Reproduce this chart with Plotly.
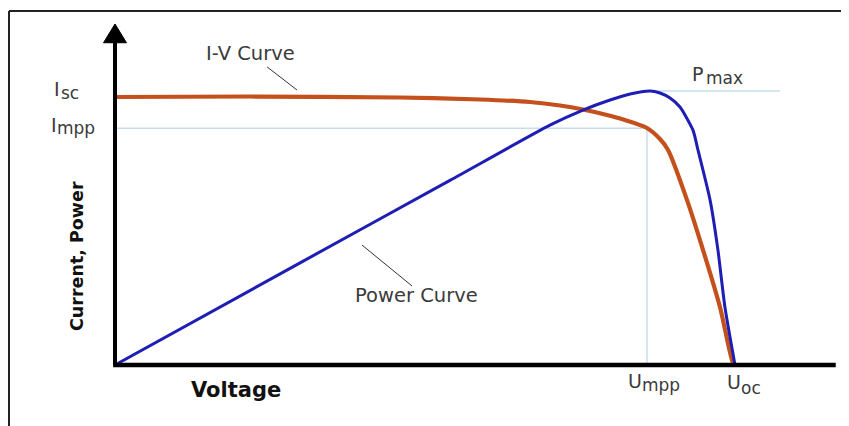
import plotly.graph_objects as go

# ---- data (voltage in V, current / power in relative units) ----
iv_voltage = [0, 8.71, 18.39, 23.55, 26.77, 28.71, 30.19, 31.61, 32.90, 34.32,
              35.16, 35.68, 36.90, 37.94, 39.03, 39.87, 40.0]
iv_current = [8.0, 8.015, 7.985, 7.925, 7.85, 7.746, 7.627, 7.478, 7.313, 7.075,
              6.746, 6.42, 4.93, 3.43, 1.73, 0.06, 0.0]

pw_voltage = [0, 11.94, 21.61, 28.06, 30.19, 31.94, 33.23, 34.52, 35.16, 35.81,
              36.45, 37.29, 37.61, 38.39, 38.90, 39.35, 40.0]
pw_power = [0, 3.05, 5.51, 7.16, 7.61, 7.91, 8.09, 8.18, 8.12, 7.97,
            7.70, 7.01, 6.42, 4.93, 3.43, 1.73, 0.0]

U_MPP = 34.32
I_MPP = 7.07
P_MAX = 8.18
P_MAX_V = 34.52
U_OC = 40.0
I_SC = 8.0

X_RANGE = [-1.613, 47.097]
Y_RANGE = [-0.149, 10.448]

# page offset of the figure inside the browser page (default body margin)
OFF = 8
W, H = 841, 418
ML, MR, MT, MB = 82, 4, 7, 56


def pxx(x):
    return (x - OFF - ML) / (W - ML - MR)


def pxy(y):
    return (H - MB - (y - OFF)) / (H - MT - MB)


RED = "#C4501C"
BLUE = "#1E1EB4"
THIN = "#A9CDE3"
TXT = "#3a3a3a"
FONT = "DejaVu Sans"

fig = go.Figure()
fig.add_trace(go.Scatter(x=iv_voltage, y=iv_current, mode="lines",
                         line=dict(color=RED, width=4.2, shape="spline", smoothing=0.8),
                         hoverinfo="skip", showlegend=False))
fig.add_trace(go.Scatter(x=pw_voltage, y=pw_power, mode="lines",
                         line=dict(color=BLUE, width=3, shape="spline", smoothing=0.6),
                         hoverinfo="skip", showlegend=False))

shapes = []
# reference lines
shapes.append(dict(type="line", xref="x", yref="y", x0=0, x1=U_MPP, y0=I_MPP, y1=I_MPP,
                   line=dict(color=THIN, width=1), layer="below"))
shapes.append(dict(type="line", xref="x", yref="y", x0=U_MPP, x1=U_MPP, y0=0, y1=I_MPP,
                   line=dict(color=THIN, width=1), layer="below"))
shapes.append(dict(type="line", xref="x", yref="y", x0=P_MAX_V, x1=42.9, y0=P_MAX, y1=P_MAX,
                   line=dict(color=THIN, width=1), layer="below"))
# axes
shapes.append(dict(type="line", xref="x", yref="y", x0=-0.12, x1=46.5, y0=0, y1=0,
                   line=dict(color="black", width=4.5)))
shapes.append(dict(type="line", xref="x", yref="y", x0=0, x1=0, y0=0, y1=9.7,
                   line=dict(color="black", width=4)))
shapes.append(dict(type="path", xref="x", yref="y",
                   path="M -0.74,9.62 L 0.74,9.62 L 0,10.18 Z",
                   fillcolor="black", line=dict(color="black", width=1)))
# leader lines
shapes.append(dict(type="line", xref="x", yref="y", x0=9.81, y0=8.90, x1=11.74, y1=8.21,
                   line=dict(color="#333333", width=1)))
shapes.append(dict(type="line", xref="x", yref="y", x0=15.94, y0=3.58, x1=19.16, y1=2.36,
                   line=dict(color="#333333", width=1)))
# frame (left and top)
shapes.append(dict(type="line", xref="paper", yref="paper", x0=pxx(9), x1=pxx(9),
                   y0=pxy(11), y1=pxy(440), line=dict(color="#222222", width=2)))
shapes.append(dict(type="line", xref="paper", yref="paper", x0=pxx(9), x1=pxx(860),
                   y0=pxy(11), y1=pxy(11), line=dict(color="#222222", width=2)))

ann = []


def label(text, x, y, xanchor="left", size=18, color=TXT, bold=False, angle=0):
    if bold:
        text = "<b>" + text + "</b>"
    ann.append(dict(text=text, xref="paper", yref="paper", x=pxx(x), y=pxy(y),
                    xanchor=xanchor, yanchor="middle", showarrow=False, textangle=angle,
                    font=dict(family=FONT, size=size, color=color)))


def sublabel(main, sub, x_main, y_main, x_sub, y_sub, main_size=19, sub_size=17):
    label(main, x_main, y_main, size=main_size)
    label(sub, x_sub, y_sub, size=sub_size)


label("I-V Curve", 250, 54, xanchor="center", size=19.5)
label("Power Curve", 416, 295, xanchor="center", size=19.5)
sublabel("I", "sc", 52, 89, 59, 93)
sublabel("I", "mpp", 49, 125, 55, 128)
sublabel("P", "max", 690, 74, 704, 78)
sublabel("U", "mpp", 626, 381, 640, 385)
sublabel("U", "oc", 725, 382, 739, 388)
label("Voltage", 236, 390, xanchor="center", size=21, color="#111111", bold=True)
ann.append(dict(text="<b>Current, Power</b>", xref="paper", yref="paper",
                x=pxx(77), y=pxy(256), xanchor="center", yanchor="middle",
                showarrow=False, textangle=-90,
                font=dict(family=FONT, size=17.5, color="#111111")))

fig.update_layout(
    width=W, height=H,
    margin=dict(l=ML, r=MR, t=MT, b=MB, pad=0),
    paper_bgcolor="white", plot_bgcolor="white",
    xaxis=dict(range=X_RANGE, visible=False, fixedrange=True),
    yaxis=dict(range=Y_RANGE, visible=False, fixedrange=True),
    shapes=shapes, annotations=ann, showlegend=False,
)

fig.write_html("out.html")
